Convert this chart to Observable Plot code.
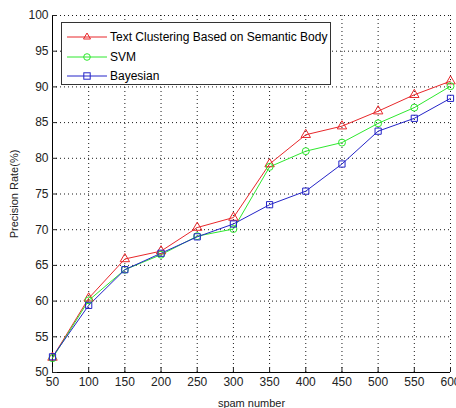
<!DOCTYPE html>
<html><head><meta charset="utf-8">
<script src="https://cdn.jsdelivr.net/npm/d3@7"></script>
<script src="https://cdn.jsdelivr.net/npm/@observablehq/plot@0.6"></script>
<style>
body{margin:0;background:#fff;font-family:"Liberation Sans",Arial,sans-serif;}
#wrap{position:relative;width:456px;height:408px;}
#legend{position:absolute;left:61px;top:22px;width:270px;height:63px;border:1px solid #333;background:#fff;box-sizing:border-box;font-size:12px;}
.row{position:absolute;left:0;height:20px;display:flex;align-items:center;}
.row svg{margin-left:5px;margin-right:3px;}
</style></head>
<body><div id="wrap"><div id="chart"></div><div id="legend"></div></div>
<script>
const spam = [50,100,150,200,250,300,350,400,450,500,550,600];
const textClustering = [52.1,60.4,65.9,67.0,70.3,71.7,79.2,83.3,84.5,86.6,88.9,90.8];
const svm = [52.0,60.1,64.4,66.5,69.1,70.1,78.8,81.0,82.2,84.9,87.1,90.1];
const bayesian = [52.2,59.4,64.4,66.7,69.0,70.8,73.5,75.4,79.2,83.8,85.6,88.4];
const seriesNames = ["Text Clustering Based on Semantic Body","SVM","Bayesian"];
const colors = ["#e8272a","#2ee82e","#2424c8"];
const symbols = ["triangle","circle","square"];
const xTicks = [50,100,150,200,250,300,350,400,450,500,550,600];
const yTicks = [50,55,60,65,70,75,80,85,90,95,100];

const all = [textClustering, svm, bayesian];
const data = [];
all.forEach((vals, s) => vals.forEach((v, i) => data.push({x: spam[i], y: v, s: seriesNames[s]})));

const plot = Plot.plot({
  width: 456, height: 408,
  marginLeft: 52, marginRight: 6, marginTop: 15, marginBottom: 36,
  style: {fontFamily: "Liberation Sans, Arial, sans-serif", fontSize: "12px", background: "#fff"},
  x: {domain: [50, 600]},
  y: {domain: [50, 100]},
  color: {domain: seriesNames, range: colors},
  symbol: {domain: seriesNames, range: symbols},
  marks: [
    Plot.gridX(xTicks, {stroke: "#000", strokeOpacity: 0.9, strokeDasharray: "1,3"}),
    Plot.gridY(yTicks, {stroke: "#000", strokeOpacity: 0.9, strokeDasharray: "1,3"}),
    Plot.ruleX([50], {stroke: "#000"}),
    Plot.ruleY([50], {stroke: "#000"}),
    Plot.axisX(xTicks, {tickSize: -5, tickPadding: 10, fontSize: 12, label: "spam number", labelAnchor: "center", labelArrow: "none", labelOffset: 34, color: "#222"}),
    Plot.axisY(yTicks, {tickSize: -5, tickPadding: 9, fontSize: 12, label: "Precision Rate(%)", labelAnchor: "center", labelArrow: "none", labelOffset: 42, color: "#222"}),
    Plot.line(data, {x: "x", y: "y", stroke: "s", strokeWidth: 1}),
    Plot.dot(data, {x: "x", y: "y", stroke: "s", symbol: "s", r: 3.5, strokeWidth: 1, fill: "none"})
  ]
});
document.getElementById("chart").appendChild(plot);
plot.querySelectorAll("[aria-label='x-axis label'] text, [aria-label='y-axis label'] text").forEach(t => t.setAttribute("font-size", "11px"));

const leg = document.getElementById("legend");
seriesNames.forEach((n, i) => {
  const row = document.createElement("div");
  row.className = "row";
  row.style.top = (4 + i * 19.5) + "px";
  const sym = i === 0 ? '<path d="M20,3 L23.5,9 L16.5,9 Z" fill="none" stroke="'+colors[i]+'"/>'
    : i === 1 ? '<circle cx="20" cy="7" r="3.3" fill="none" stroke="'+colors[i]+'"/>'
    : '<rect x="16.8" y="3.8" width="6.4" height="6.4" fill="none" stroke="'+colors[i]+'"/>';
  row.innerHTML = '<svg width="40" height="14"><line x1="0" x2="40" y1="7" y2="7" stroke="'+colors[i]+'"/>' + sym + '</svg><span>' + n + '</span>';
  leg.appendChild(row);
});
</script></body></html>
